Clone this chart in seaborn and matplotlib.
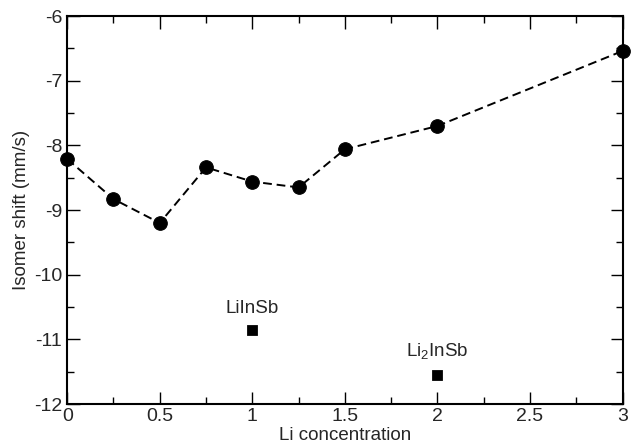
import matplotlib
matplotlib.use("Agg")
import matplotlib.pyplot as plt
import seaborn as sns
import pandas as pd
from matplotlib.ticker import MultipleLocator

# data
li_conc = [0, 0.25, 0.5, 0.75, 1.0, 1.25, 1.5, 2.0, 3.0]
isomer_shift = [-8.21, -8.83, -9.20, -8.34, -8.56, -8.65, -8.06, -7.70, -6.54]

ref_x = [1.0, 2.0]
ref_y = [-10.85, -11.55]
ref_names = ["LiInSb", r"Li$_2$InSb"]

sns.set_style("ticks")
plt.rcParams["font.family"] = ["Liberation Sans", "DejaVu Sans"]
plt.rcParams["mathtext.fontset"] = "custom"
plt.rcParams["mathtext.rm"] = "Liberation Sans"

df = pd.DataFrame({"x": li_conc, "y": isomer_shift})
df_ref = pd.DataFrame({"x": ref_x, "y": ref_y})

fig = plt.figure(figsize=(6.34, 4.46), dpi=100)
ax = fig.add_axes([0.106, 0.094, 0.876, 0.870])

sns.lineplot(data=df, x="x", y="y", ax=ax, color="black", linestyle=(0, (4.5, 2.5)),
             linewidth=1.4, marker="o", markersize=9.8, markeredgecolor="black",
             markerfacecolor="black", zorder=3, clip_on=False)
sns.scatterplot(data=df_ref, x="x", y="y", ax=ax, marker="s", s=52,
                color="black", edgecolor="black", zorder=3)

for x, y, name in zip(ref_x, ref_y, ref_names):
    ax.text(x, y + 0.2, name, ha="center", va="bottom", fontsize=13.5)

ax.set_xlim(0, 3)
ax.set_ylim(-12, -6)
ax.xaxis.set_major_locator(MultipleLocator(0.5))
ax.xaxis.set_minor_locator(MultipleLocator(0.25))
ax.yaxis.set_major_locator(MultipleLocator(1))
ax.yaxis.set_minor_locator(MultipleLocator(0.5))
ax.xaxis.set_major_formatter(plt.FuncFormatter(lambda v, p: f"{v:g}"))
ax.yaxis.set_major_formatter(plt.FuncFormatter(lambda v, p: f"{v:g}"))

ax.tick_params(which="both", direction="in", top=True, right=True,
               labelsize=14, width=1, color="black")
ax.tick_params(which="major", length=9)
ax.tick_params(which="minor", length=5)
ax.tick_params(axis="x", pad=3)
for s in ax.spines.values():
    s.set_linewidth(1.5)
    s.set_color("black")

ax.set_xlabel("Li concentration", fontsize=13.5, labelpad=1)
ax.set_ylabel("Isomer shift (mm/s)", fontsize=13.5, labelpad=3)

fig.savefig("out.png", dpi=100)
